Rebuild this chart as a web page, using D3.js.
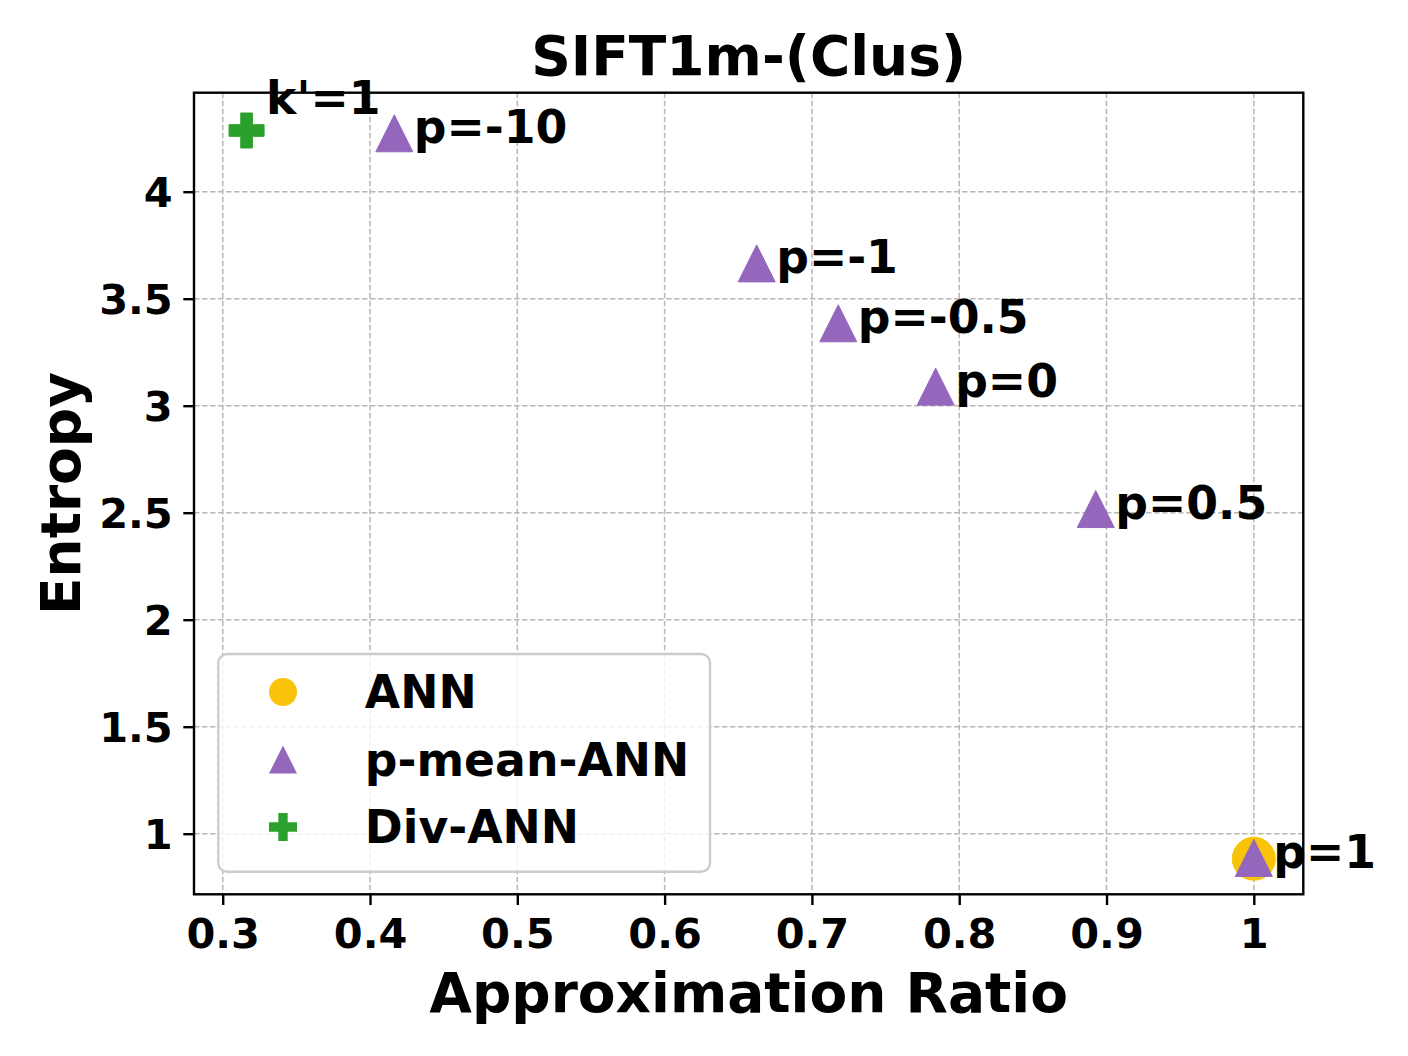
<!DOCTYPE html>
<html>
<head>
<meta charset="utf-8">
<script src="https://cdnjs.cloudflare.com/ajax/libs/d3/7.8.5/d3.min.js"></script>
<style>
body{margin:0;background:#fff;}
text{font-family:"DejaVu Sans",sans-serif;font-weight:bold;fill:#000;}
</style>
</head>
<body>
<svg id="scatter"></svg>
<script>
// values
var seriesNames = ["ANN","p-mean-ANN","Div-ANN"];

var annRatio = [1.0];
var annEntropy = [0.883];

var pLabels = ["p=-10","p=-1","p=-0.5","p=0","p=0.5","p=1"];
var pRatio = [0.4165,0.6625,0.7179,0.784,0.8927,1.0];
var pEntropy = [4.273,3.665,3.385,3.089,2.517,0.887];

var divLabels = ["k'=1"];
var divRatio = [0.3162];
var divEntropy = [4.286];

var xTicks = [0.3,0.4,0.5,0.6,0.7,0.8,0.9,1];
var yTicks = [1,1.5,2,2.5,3,3.5,4];

var colors = {ann:"#f9c30a", pmean:"#9467bd", div:"#2ca02c"};

// matplotlib style markers
var triangle = function(s)
{
    var h = s/2;
    return "M0,"+(-h)+"L"+h+","+h+"L"+(-h)+","+h+"Z";
}

var plus = function(s)
{
    var a = s/6, b = s/2;
    return "M"+(-a)+","+(-b)+"H"+a+"V"+(-a)+"H"+b+"V"+a+"H"+a+"V"+b
        +"H"+(-a)+"V"+a+"H"+(-b)+"V"+(-a)+"H"+(-a)+"Z";
}

var circle = function(s)
{
    var r = s/2;
    return "M"+r+",0A"+r+","+r+" 0 1,1 "+(-r)+",0A"+r+","+r+" 0 1,1 "+r+",0Z";
}

var zip = function(xs,ys,labels)
{
    return xs.map(function(x,i)
    {
        return {x:x, y:ys[i], label: labels ? labels[i] : null};
    })
}

var initGraph = function(target)
{
    var screen = {width:1408, height:1056};
    var margins = {top:92.7, bottom:161.7, left:194, right:104.7};
    var graph = {
        width:screen.width-margins.left-margins.right,
        height:screen.height-margins.top-margins.bottom
    }

    var svg = d3.select(target)
        .attr("width",screen.width)
        .attr("height",screen.height)

    var xScale = d3.scaleLinear()
        .domain([0.2805,1.0336])
        .range([0,graph.width])

    var yScale = d3.scaleLinear()
        .domain([0.7168,4.4626])
        .range([graph.height,0])

    var g = svg.append("g")
        .attr("transform","translate("+margins.left+","+margins.top+")")

    //grid
    g.append("g").selectAll("line")
        .data(xTicks)
        .enter().append("line")
        .attr("x1",function(d){return xScale(d);})
        .attr("x2",function(d){return xScale(d);})
        .attr("y1",0).attr("y2",graph.height)
        .attr("stroke","#b8b8b8").attr("stroke-width",1.5)
        .attr("stroke-dasharray","5.5,2.5")

    g.append("g").selectAll("line")
        .data(yTicks)
        .enter().append("line")
        .attr("y1",function(d){return yScale(d);})
        .attr("y2",function(d){return yScale(d);})
        .attr("x1",0).attr("x2",graph.width)
        .attr("stroke","#b8b8b8").attr("stroke-width",1.5)
        .attr("stroke-dasharray","5.5,2.5")

    //axes
    var fmt = d3.format("~g");
    var xAxis = g.append("g")
        .attr("transform","translate(0,"+graph.height+")")
        .call(d3.axisBottom(xScale).tickValues(xTicks).tickFormat(fmt).tickSize(10.7))
    var yAxis = g.append("g")
        .call(d3.axisLeft(yScale).tickValues(yTicks).tickFormat(fmt).tickSize(10.7))

    g.selectAll(".domain").remove();
    g.selectAll(".tick line").attr("stroke","#000").attr("stroke-width",2.4);
    g.selectAll(".tick text")
        .attr("font-family",null)
        .style("font-size","41.5px")
    xAxis.selectAll(".tick text").attr("y",53.7).attr("dy",0)
    yAxis.selectAll(".tick text").attr("x",-21.3).attr("dy","0.36em")

    //frame
    g.append("rect")
        .attr("width",graph.width).attr("height",graph.height)
        .attr("fill","none").attr("stroke","#000").attr("stroke-width",2.4)

    //points
    var series = [
        {name:"ann", data:zip(annRatio,annEntropy), shape:circle, size:43},
        {name:"pmean", data:zip(pRatio,pEntropy,pLabels), shape:triangle, size:37},
        {name:"div", data:zip(divRatio,divEntropy,divLabels), shape:plus, size:35}
    ]

    series.forEach(function(s)
    {
        g.append("g").selectAll("path")
            .data(s.data)
            .enter().append("path")
            .attr("d",s.shape(s.size))
            .attr("transform",function(d)
            {
                return "translate("+xScale(d.x)+","+yScale(d.y)+")";
            })
            .attr("fill",colors[s.name])
            .attr("stroke",colors[s.name])
            .attr("stroke-width",1)
            .attr("stroke-linejoin","round")
    })

    //labels
    g.append("g").selectAll("text")
        .data(zip(pRatio,pEntropy,pLabels))
        .enter().append("text")
        .attr("x",function(d){return xScale(d.x)+19.5;})
        .attr("y",function(d){return yScale(d.y)+10;})
        .style("font-size","45.7px")
        .text(function(d){return d.label;})

    g.append("g").selectAll("text")
        .data(zip(divRatio,divEntropy,divLabels))
        .enter().append("text")
        .attr("x",function(d){return xScale(d.x)+19.5;})
        .attr("y",function(d){return yScale(d.y)-16;})
        .style("font-size","45.7px")
        .text(function(d){return d.label;})

    //legend
    var leg = g.append("g")
        .attr("transform","translate(24.3,561.3)")
    leg.append("rect")
        .attr("width",491.7).attr("height",217.7)
        .attr("rx",9).attr("ry",9)
        .attr("fill","#fff").attr("fill-opacity",0.8)
        .attr("stroke","#cccccc").attr("stroke-width",2.4)

    var legShapes = [circle,triangle,plus];
    var legColors = [colors.ann,colors.pmean,colors.div];
    var rows = leg.selectAll(".row")
        .data(seriesNames)
        .enter().append("g")
        .attr("transform",function(d,i){return "translate(0,"+(38+i*67.5)+")";})
    rows.append("path")
        .attr("d",function(d,i){return legShapes[i](28);})
        .attr("transform","translate(64.7,0)")
        .attr("fill",function(d,i){return legColors[i];})
    rows.append("text")
        .attr("x",146.5).attr("y",16)
        .style("font-size","45.7px")
        .text(function(d){return d;})

    //titles
    svg.append("text")
        .attr("x",margins.left+graph.width/2).attr("y",75)
        .attr("text-anchor","middle")
        .style("font-size","55px")
        .text("SIFT1m-(Clus)")

    svg.append("text")
        .attr("x",margins.left+graph.width/2).attr("y",1012)
        .attr("text-anchor","middle")
        .style("font-size","55px")
        .text("Approximation Ratio")

    svg.append("text")
        .attr("transform","translate(80,"+(margins.top+graph.height/2)+") rotate(-90)")
        .attr("text-anchor","middle")
        .style("font-size","55px")
        .text("Entropy")
}

initGraph("#scatter");
</script>
</body>
</html>
